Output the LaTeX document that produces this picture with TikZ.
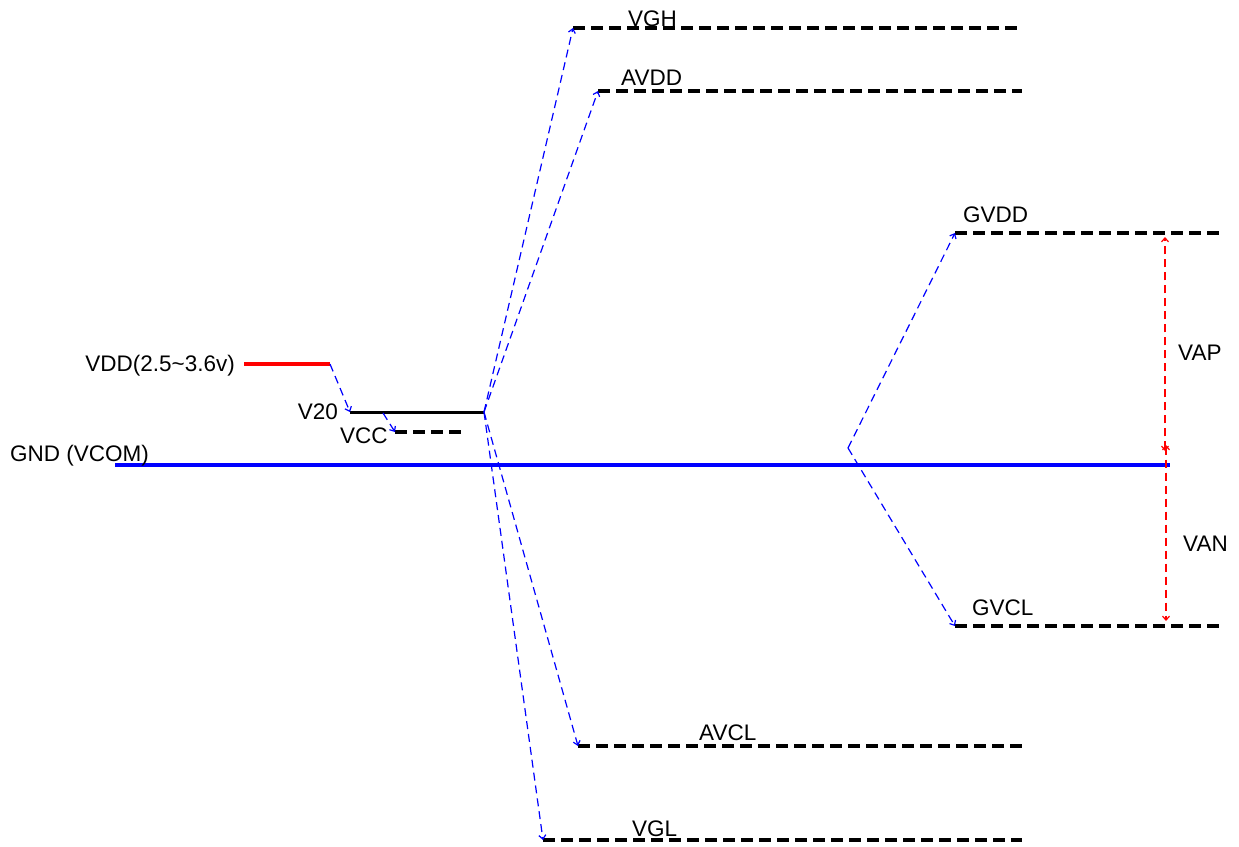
\documentclass[tikz,border=0pt]{standalone}
\usepackage{fontspec}
\setmainfont{Liberation Sans}
\usetikzlibrary{arrows.meta}
\begin{document}
\begin{tikzpicture}[x=1pt,y=-1pt,
  level/.style={black, line width=3.5pt, dash pattern=on 12pt off 6pt},
  conn/.style={blue, line width=1.2pt, dash pattern=on 8pt off 5pt, -{Straight Barb[length=4pt,width=7pt]}},
  span/.style={red, line width=1.2pt, dash pattern=on 8pt off 5pt, {Straight Barb[length=4pt,width=7pt]}-{Straight Barb[length=4pt,width=7pt]}},
  lbl/.style={font=\fontsize{22.5}{26}\selectfont, inner sep=0pt}]
\useasboundingbox (0,0) rectangle (1239,846);
% level coordinates
\coordinate (vghA) at (573,28);  \coordinate (vghB) at (1022,28);
\coordinate (avddA) at (598,91); \coordinate (avddB) at (1022,91);
\coordinate (gvddA) at (955,233); \coordinate (gvddB) at (1220,233);
\coordinate (gndA) at (115,465); \coordinate (gndB) at (1170,465);
\coordinate (gvclA) at (955,626); \coordinate (gvclB) at (1220,626);
\coordinate (avclA) at (578,746); \coordinate (avclB) at (1022,746);
\coordinate (vglA) at (543,840); \coordinate (vglB) at (1022,840);
\coordinate (vddA) at (244,364); \coordinate (vddB) at (330,364);
\coordinate (v20A) at (350,412); \coordinate (v20B) at (484,412);
\coordinate (vccA) at (395,432); \coordinate (vccB) at (461,432);
\coordinate (v20tap) at (383,413);
\coordinate (split) at (848,448);
\coordinate (vapT) at (1165,237); \coordinate (vapB) at (1165,451);
\coordinate (vanT) at (1166,445); \coordinate (vanB) at (1166,621);
% levels
\draw[level] (vghA) -- (vghB);
\draw[level] (avddA) -- (avddB);
\draw[level] (gvddA) -- (gvddB);
\draw[level] (gvclA) -- (gvclB);
\draw[level] (avclA) -- (avclB);
\draw[level] (vglA) -- (vglB);
\draw[level] (vccA) -- (vccB);
\draw[blue, line width=4.5pt] (gndA) -- (gndB);
\draw[red, line width=4pt] (vddA) -- (vddB);
\draw[black, line width=3pt] (v20A) -- (v20B);
% labels
\node[lbl, anchor=base west] (lvgh) at (628,26) {VGH};
\node[lbl, anchor=base west] (lavdd) at (621,85) {AVDD};
\node[lbl, anchor=base west] (lgvdd) at (963,222) {GVDD};
\node[lbl, anchor=base west] (lgnd) at (10,461) {GND (VCOM)};
\node[lbl, anchor=base west] (lgvcl) at (972,615) {GVCL};
\node[lbl, anchor=base west] (lavcl) at (699,740) {AVCL};
\node[lbl, anchor=base west] (lvgl) at (632,836) {VGL};
\node[lbl, anchor=base east] (lvdd) at (235,371) {VDD(2.5\char`\~3.6v)};
\node[lbl, anchor=base east] (lv20) at (338,419) {V20};
\node[lbl, anchor=base west] (lvcc) at (340,443) {VCC};
\node[lbl, anchor=base west] (lvap) at (1178,360) {VAP};
\node[lbl, anchor=base west] (lvan) at (1183,551) {VAN};
% connectors
\draw[conn] (vddB) -- (v20A);
\draw[conn] (v20tap) -- (vccA);
\draw[conn] (v20B) -- (vghA);
\draw[conn] (v20B) -- (avddA);
\draw[conn] (v20B) -- (avclA);
\draw[conn] (v20B) -- (vglA);
\draw[conn] (split) -- (gvddA);
\draw[conn] (split) -- (gvclA);
\draw[span] (vapB) -- (vapT);
\draw[span] (vanT) -- (vanB);
\end{tikzpicture}
\end{document}
